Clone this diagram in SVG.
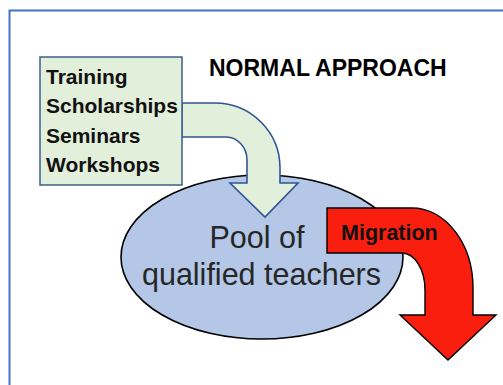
<svg xmlns="http://www.w3.org/2000/svg" width="503" height="385" viewBox="0 0 503 385">
  <style>
    .frame { fill: none; stroke: #4472c4; stroke-width: 2; }
    .box { fill: #e2efda; stroke: #3b5f8a; stroke-width: 1.5; }
    .pool { fill: #b4c7e7; stroke: #000; stroke-width: 1.6; }
    .flow-in { fill: #e2efda; stroke: #2f5597; stroke-width: 1.6; stroke-linejoin: miter; }
    .flow-out { fill: #fa1e0e; stroke: #000; stroke-width: 1.4; stroke-linejoin: miter; }
    .list { font-family: "Liberation Sans", Arial, sans-serif; font-weight: bold; font-size: 21px; fill: #111; }
    .title { font-family: "Liberation Sans", Arial, sans-serif; font-weight: bold; font-size: 23px; fill: #000; }
    .pool-text { font-family: "Liberation Sans", Arial, sans-serif; font-size: 30.5px; fill: #262626; text-anchor: middle; }
    .tag { font-family: "Liberation Sans", Arial, sans-serif; font-weight: bold; font-size: 21.5px; fill: #111; }
  </style>

  <rect width="503" height="385" fill="#fff"/>
  <path class="frame" d="M9.5,385 V10.5 H504"/>

  <g id="title">
    <text class="title" x="209" y="76">NORMAL APPROACH</text>
  </g>

  <g id="pool">
    <ellipse class="pool" cx="262" cy="257" rx="141" ry="82"/>
    <text class="pool-text" x="257" y="248">Pool of</text>
    <text class="pool-text" x="261.5" y="285">qualified teachers</text>
  </g>

  <g id="connectors">
    <path id="flow-in" class="flow-in" d="M182,103 H215 A65,65 0 0 1 280,168 V183 H298 L265,217 L230,183 H247 V160 A21,23 0 0 0 226,137 H182 Z"/>
    <path id="flow-out" class="flow-out" d="M327,208 H412 A61,80 0 0 1 473,288 V315 H496 L448,360 L400,315 H425 V290 A23,37 0 0 0 402,253 H327 Z"/>
    <text class="tag" x="341" y="240">Migration</text>
  </g>

  <g id="sources">
    <rect class="box" x="40" y="57" width="142" height="128"/>
    <text class="list" x="46" y="84">Training</text>
    <text class="list" x="46" y="113">Scholarships</text>
    <text class="list" x="46" y="143">Seminars</text>
    <text class="list" x="46" y="172">Workshops</text>
  </g>
</svg>
